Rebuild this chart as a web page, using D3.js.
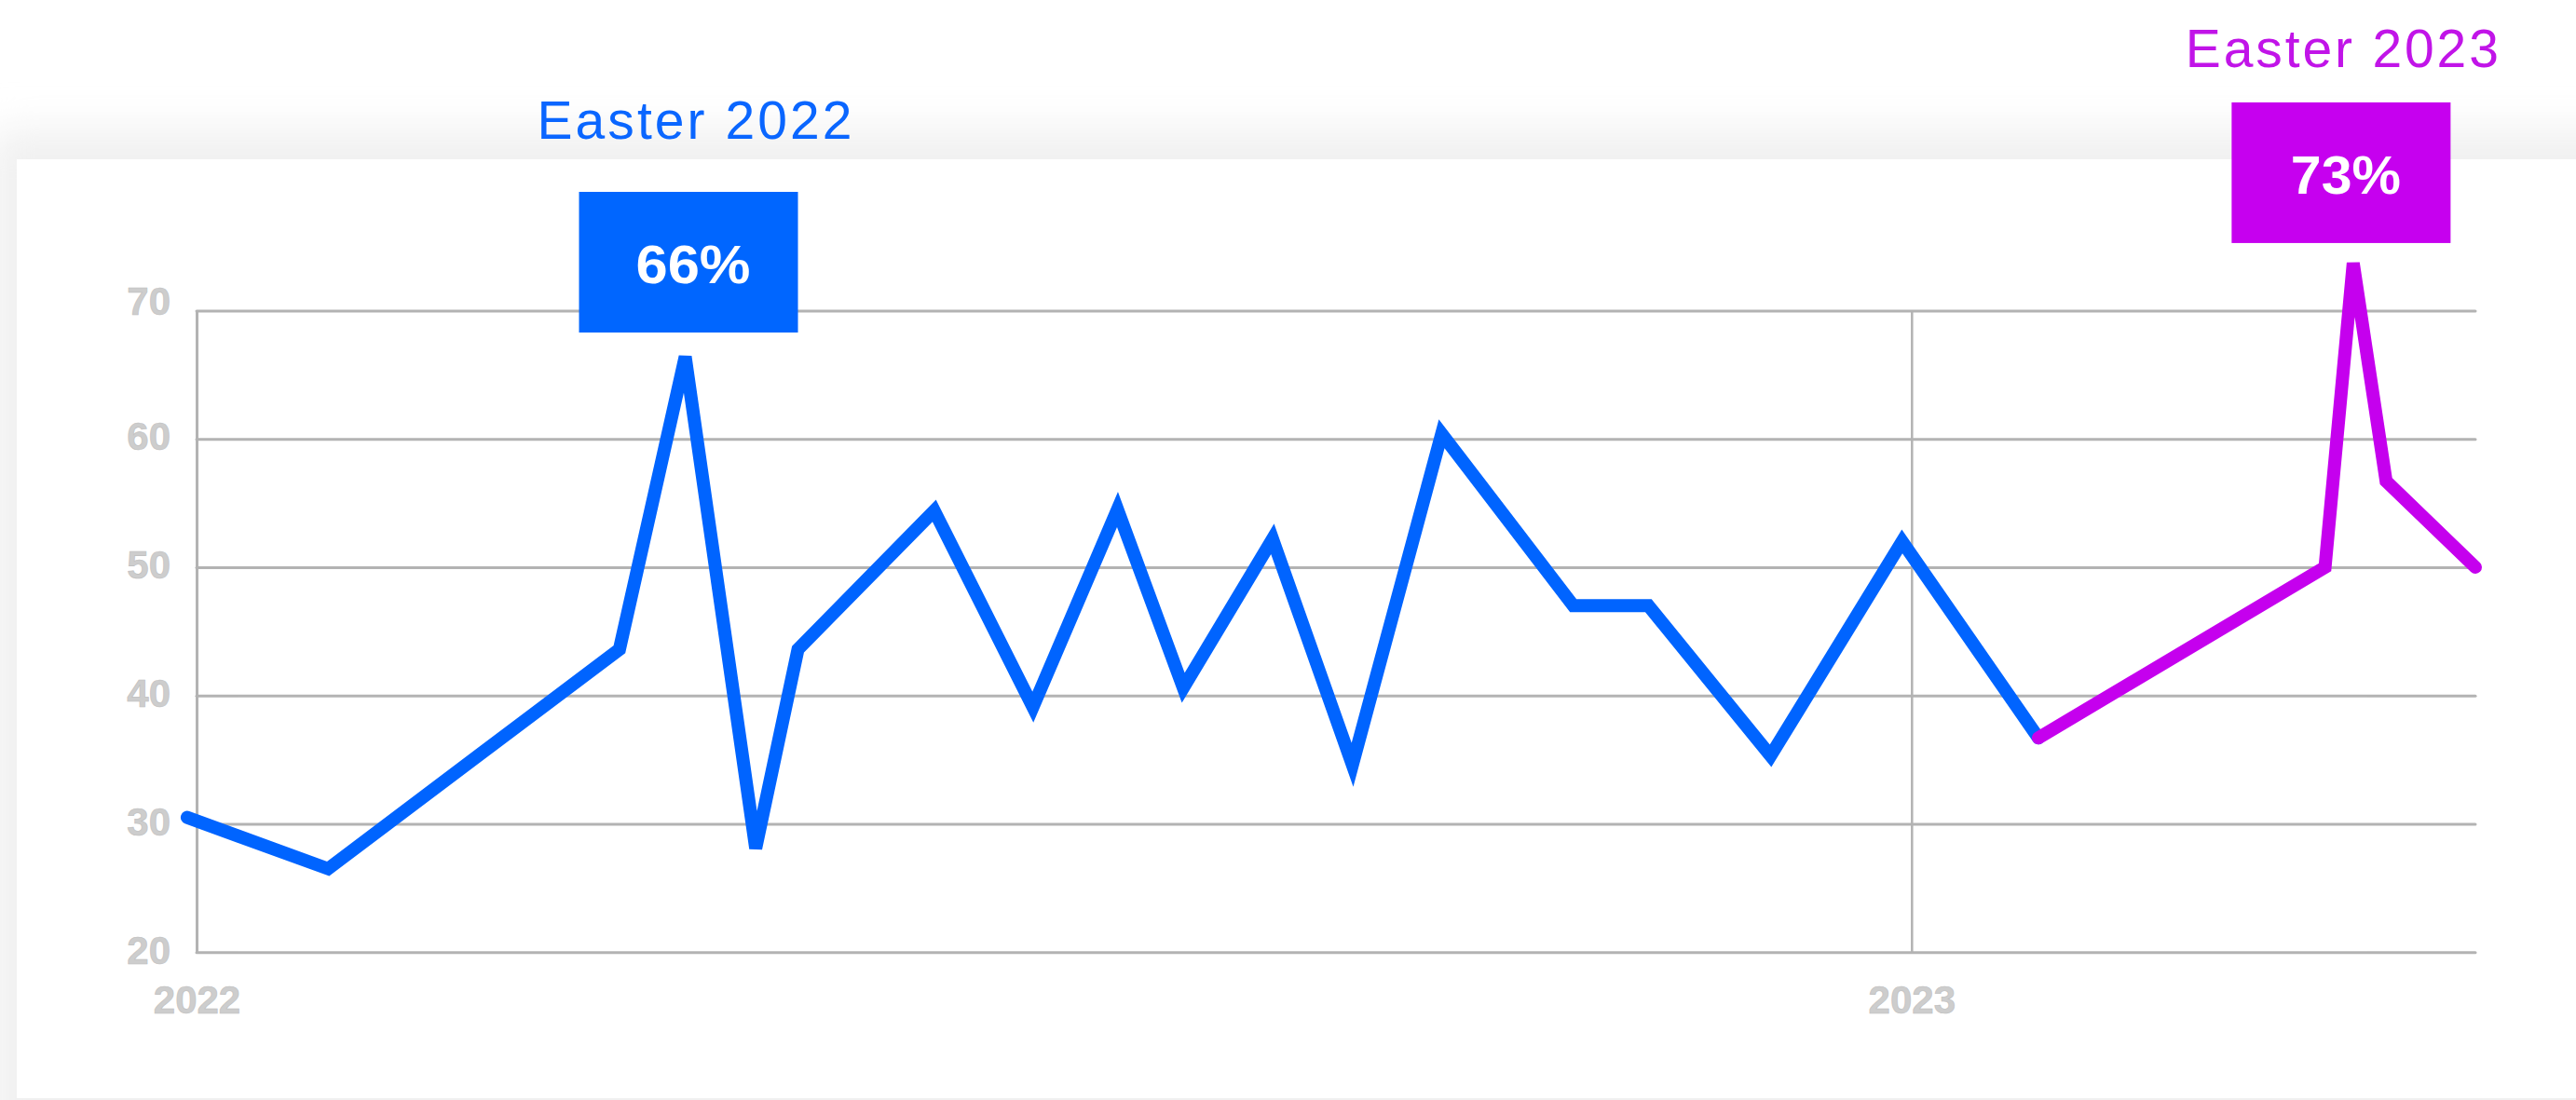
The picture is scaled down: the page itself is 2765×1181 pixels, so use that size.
<!DOCTYPE html>
<html>
<head>
<meta charset="utf-8">
<title>Easter 2022 / Easter 2023</title>
<style>
  html, body { margin: 0; padding: 0; background: #fff; }
  svg { display: block; }
</style>
</head>
<body>
<div id="vis"></div>
<script src="https://d3js.org/d3.v7.min.js"></script>
<script>
// values
const blueDates = ["2021-12-30", "2022-01-29", "2022-04-01", "2022-04-15", "2022-04-30", "2022-05-09",
                   "2022-06-07", "2022-06-28", "2022-07-16", "2022-07-30", "2022-08-18", "2022-09-04",
                   "2022-09-23", "2022-10-21", "2022-11-06", "2022-12-02", "2022-12-30", "2023-01-28"]
const blueValues = [30.5, 26.5, 43.6, 66.4, 28.1, 43.6,
                    54.4, 39.1, 54.5, 40.6, 52.2, 34.6,
                    60.4, 47.0, 47.0, 35.3, 52.0, 36.7]
const purpleDates = ["2023-01-28", "2023-03-30", "2023-04-05", "2023-04-12", "2023-05-01"]
const purpleValues = [36.7, 50.0, 73.7, 56.7, 50.0]
const yTicks = [20, 30, 40, 50, 60, 70]
const xTickLabels = ["2022", "2023"]
const annoTitles = ["Easter 2022", "Easter 2023"]
const annoLabels = ["66%", "73%"]

// canvas
const W = 2765, H = 1181
const BLUE = "#0064ff", PURPLE = "#c500ee"
const GRID = "#b3b3b3"
const parse = d3.timeParse("%Y-%m-%d")
const yearParse = d3.timeParse("%Y")

const svg = d3.select("#vis").append("svg")
  .attr("width", W)
  .attr("height", H)

// soft grey shadow behind the white card
const defs = svg.append("defs")
defs.append("filter").attr("id", "blur")
  .attr("x", "-10%").attr("y", "-10%").attr("width", "120%").attr("height", "120%")
  .append("feGaussianBlur").attr("stdDeviation", 22)
svg.append("rect")
  .attr("x", -10).attr("y", 140).attr("width", W + 80).attr("height", H)
  .attr("fill", "#f0f0f0")
  .attr("filter", "url(#blur)")
svg.append("rect")
  .attr("x", 18).attr("y", 171).attr("width", W).attr("height", 1179 - 171)
  .attr("fill", "#fff")

// scales
const x = d3.scaleTime()
  .domain([yearParse("2022"), parse("2023-05-01")])
  .range([211, 2657])
const y = d3.scaleLinear()
  .domain([20, 70])
  .range([1022.3, 333.4])

const labelFont = "'Liberation Sans', Arial, sans-serif"

// y axis + horizontal grid
const yAxis = svg.append("g")
  .attr("transform", `translate(${x.range()[0]},0)`)
  .call(d3.axisLeft(y)
    .tickValues(yTicks)
    .tickSizeInner(-(x.range()[1] - x.range()[0]))
    .tickSizeOuter(0)
    .tickPadding(28))
yAxis.select(".domain").attr("stroke", GRID).attr("stroke-width", 3)
yAxis.selectAll(".tick line")
  .attr("stroke", GRID).attr("stroke-width", 3).attr("stroke-linecap", "round")
yAxis.selectAll(".tick text")
  .attr("font-family", labelFont).attr("font-weight", "bold").attr("font-size", 42)
  .attr("fill", "#cdcdcd").attr("stroke", "#bdbdbd").attr("stroke-width", 0.6)
  .attr("dy", d => d === d3.max(yTicks) ? "0.1em" : "0.28em")

// x axis + vertical year line
const xAxis = svg.append("g")
  .attr("transform", `translate(0,${y.range()[0]})`)
  .call(d3.axisBottom(x)
    .tickValues(xTickLabels.map(yearParse))
    .tickFormat(d3.timeFormat("%Y"))
    .tickSizeInner(-(y.range()[0] - y.range()[1]))
    .tickSizeOuter(0)
    .tickPadding(36))
xAxis.select(".domain").remove()
xAxis.selectAll(".tick line").attr("stroke", GRID).attr("stroke-width", 2.5)
xAxis.selectAll(".tick text")
  .attr("y", 36)
  .attr("font-family", labelFont).attr("font-weight", "bold").attr("font-size", 42)
  .attr("fill", "#cdcdcd").attr("stroke", "#bdbdbd").attr("stroke-width", 0.6)
svg.selectAll(".domain, .tick line").attr("fill", "none")

// lines
const line = d3.line()
  .x(d => x(d[0]))
  .y(d => y(d[1]))

const series = [
  { dates: blueDates, values: blueValues, color: BLUE },
  { dates: purpleDates, values: purpleValues, color: PURPLE }
]
series.forEach(s => {
  svg.append("path")
    .datum(s.dates.map((d, i) => [parse(d), s.values[i]]))
    .attr("d", line)
    .attr("fill", "none")
    .attr("stroke", s.color)
    .attr("stroke-width", 14)
    .attr("stroke-linecap", "round")
    .attr("stroke-linejoin", "miter")
    .attr("stroke-miterlimit", 4)
})

// Easter annotations: box above the peak of each series
const annoLayout = [
  { dx: 3.5, gap: 26, titleGap: 57, titleDx: 6.5, titleLen: 338, labelLen: 123, box: "#0066ff", text: "#0a66ff" },
  { dx: -13, gap: 21.5, titleGap: 38, titleDx: 1, titleLen: 336, labelLen: 118, box: "#c600ef", text: "#c114e8" }
]
series.forEach((s, k) => {
  const L = annoLayout[k]
  const i = d3.maxIndex(s.values)
  const px = x(parse(s.dates[i])) + L.dx
  const top = y(s.values[i]) - L.gap - 151
  const g = svg.append("g")
  g.append("rect")
    .attr("x", px - 117.5).attr("y", top)
    .attr("width", 235).attr("height", 151)
    .attr("fill", L.box)
  g.append("text")
    .attr("x", px + 5).attr("y", top + 98)
    .attr("text-anchor", "middle")
    .attr("font-family", labelFont)
    .attr("font-weight", "bold").attr("font-size", 58)
    .attr("textLength", L.labelLen).attr("lengthAdjust", "spacingAndGlyphs")
    .attr("fill", "#fff")
    .text(annoLabels[k])
  g.append("text")
    .attr("x", px + L.titleDx).attr("y", top - L.titleGap)
    .attr("text-anchor", "middle")
    .attr("font-family", labelFont)
    .attr("font-size", 57)
    .attr("textLength", L.titleLen).attr("lengthAdjust", "spacing")
    .attr("fill", L.text)
    .text(annoTitles[k])
})
</script>
</body>
</html>
